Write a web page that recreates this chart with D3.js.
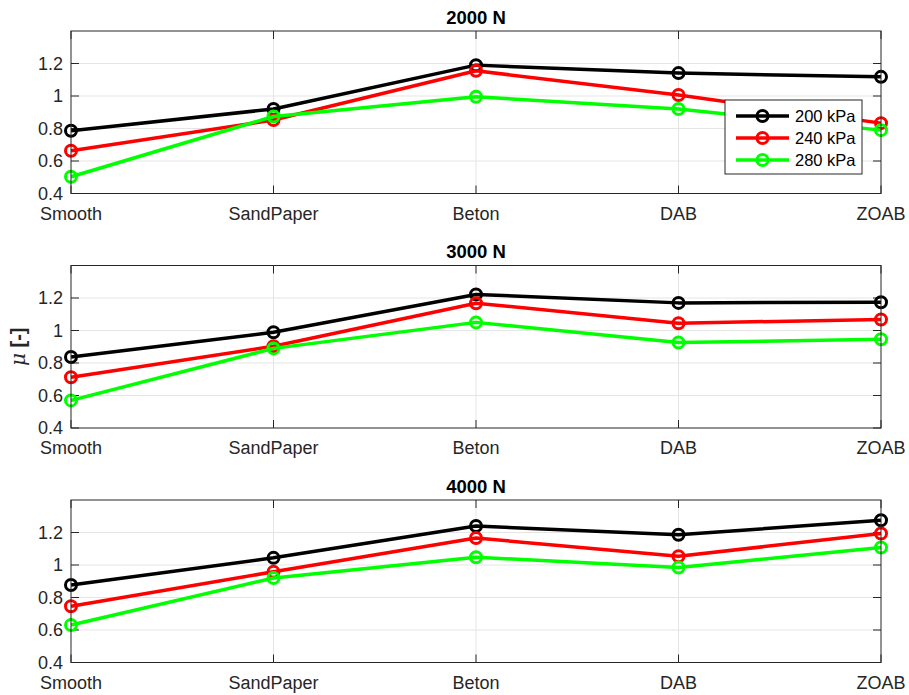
<!DOCTYPE html>
<html>
<head>
<meta charset="utf-8">
<script src="https://cdn.jsdelivr.net/npm/d3@7"></script>
<style>
  body { margin: 0; background: #fff; }
  svg { font-family: "Liberation Sans", Arial, sans-serif; }
  .grid line { stroke: #e5e5e5; stroke-width: 1; }
  .tick-label { fill: #262626; font-size: 18px; }
  .title { fill: #000; font-size: 18.5px; font-weight: bold; }
</style>
</head>
<body>
<div id="chart"></div>
<script>
const surfaces = ["Smooth", "SandPaper", "Beton", "DAB", "ZOAB"];
const pressures = ["200 kPa", "240 kPa", "280 kPa"];
const colors = ["#000000", "#ff0000", "#00ff00"];
const loads = ["2000 N", "3000 N", "4000 N"];
const yTicks = [0.4, 0.6, 0.8, 1, 1.2];

// friction coefficient per load, one row per pressure
const mu2000 = [
  [0.786, 0.92, 1.19, 1.141, 1.118],
  [0.663, 0.852, 1.155, 1.006, 0.833],
  [0.503, 0.874, 0.995, 0.92, 0.79],
];
const mu3000 = [
  [0.837, 0.989, 1.222, 1.17, 1.174],
  [0.712, 0.903, 1.168, 1.045, 1.068],
  [0.57, 0.89, 1.05, 0.926, 0.946],
];
const mu4000 = [
  [0.877, 1.044, 1.24, 1.186, 1.275],
  [0.746, 0.958, 1.166, 1.054, 1.194],
  [0.631, 0.92, 1.048, 0.985, 1.108],
];
const muByLoad = [mu2000, mu3000, mu4000];

const width = 909;
const height = 695;
const left = 71;
const right = 881;
const panelTops = [31, 265.5, 500];
const panelHeight = 162.5;

const svg = d3.select("#chart")
  .append("svg")
  .attr("width", width)
  .attr("height", height);

const x = d3.scalePoint().domain(surfaces).range([left, right]).padding(0);

loads.forEach((load, p) => {
  const top = panelTops[p];
  const bottom = top + panelHeight;
  const y = d3.scaleLinear().domain([0.4, 1.4]).range([bottom, top]);
  const g = svg.append("g");

  // grid
  const grid = g.append("g").attr("class", "grid");
  grid.selectAll(".gy").data(yTicks.slice(1))
    .join("line")
    .attr("x1", left).attr("x2", right)
    .attr("y1", d => y(d)).attr("y2", d => y(d));
  grid.selectAll(".gx").data(surfaces.slice(1, -1))
    .join("line")
    .attr("x1", d => x(d)).attr("x2", d => x(d))
    .attr("y1", top).attr("y2", bottom);

  // tick marks (inside, both sides)
  const ticks = g.append("g").attr("stroke", "#262626").attr("stroke-width", 1);
  yTicks.forEach(t => {
    ticks.append("line").attr("x1", left).attr("x2", left + 8).attr("y1", y(t)).attr("y2", y(t));
    ticks.append("line").attr("x1", right - 8).attr("x2", right).attr("y1", y(t)).attr("y2", y(t));
  });
  surfaces.forEach(s => {
    ticks.append("line").attr("x1", x(s)).attr("x2", x(s)).attr("y1", bottom).attr("y2", bottom - 8);
    ticks.append("line").attr("x1", x(s)).attr("x2", x(s)).attr("y1", top).attr("y2", top + 8);
  });

  // tick labels
  g.selectAll(".yl").data(yTicks)
    .join("text")
    .attr("class", "tick-label")
    .attr("x", left - 8)
    .attr("y", d => y(d))
    .attr("dy", "0.36em")
    .attr("text-anchor", "end")
    .text(d => String(+d.toFixed(1)));
  g.selectAll(".xl").data(surfaces)
    .join("text")
    .attr("class", "tick-label")
    .attr("x", d => x(d))
    .attr("y", bottom + 26)
    .attr("text-anchor", "middle")
    .text(d => d);

  // title
  g.append("text")
    .attr("class", "title")
    .attr("x", (left + right) / 2)
    .attr("y", top - 7.5)
    .attr("text-anchor", "middle")
    .text(load);

  // series
  const line = d3.line().x((d, i) => x(surfaces[i])).y(d => y(d));
  muByLoad[p].forEach((vals, k) => {
    g.append("path")
      .attr("d", line(vals))
      .attr("fill", "none")
      .attr("stroke", colors[k])
      .attr("stroke-width", 3.5)
      .attr("stroke-linejoin", "round");
    g.selectAll(null).data(vals)
      .join("circle")
      .attr("cx", (d, i) => x(surfaces[i]))
      .attr("cy", d => y(d))
      .attr("r", 5.5)
      .attr("fill", "none")
      .attr("stroke", colors[k])
      .attr("stroke-width", 3);
  });

  // frame
  g.append("rect")
    .attr("x", left).attr("y", top)
    .attr("width", right - left).attr("height", panelHeight)
    .attr("fill", "none")
    .attr("stroke", "#262626")
    .attr("stroke-width", 1);

  // legend in the first panel
  if (p === 0) {
    const lg = g.append("g").attr("transform", "translate(725,100)");
    lg.append("rect")
      .attr("width", 137).attr("height", 74)
      .attr("fill", "#fff")
      .attr("stroke", "#262626")
      .attr("stroke-width", 1);
    pressures.forEach((name, k) => {
      const ly = 16 + k * 22;
      lg.append("line")
        .attr("x1", 11).attr("x2", 64).attr("y1", ly).attr("y2", ly)
        .attr("stroke", colors[k]).attr("stroke-width", 3.5);
      lg.append("circle")
        .attr("cx", 37.5).attr("cy", ly).attr("r", 5.5)
        .attr("fill", "none").attr("stroke", colors[k]).attr("stroke-width", 3);
      lg.append("text")
        .attr("x", 70).attr("y", ly).attr("dy", "0.36em")
        .attr("fill", "#000").attr("font-size", "16.5px")
        .text(name);
    });
  }
});

// y-axis label
const yl = svg.append("text")
  .attr("transform", `translate(25,${(panelTops[1] * 2 + panelHeight) / 2}) rotate(-90)`)
  .attr("text-anchor", "middle")
  .attr("fill", "#262626")
  .attr("font-size", "20px");
yl.append("tspan").attr("font-family", "'DejaVu Serif', serif").attr("font-style", "italic").text("μ");
yl.append("tspan").attr("font-weight", "bold").text(" [-]");
</script>
</body>
</html>
